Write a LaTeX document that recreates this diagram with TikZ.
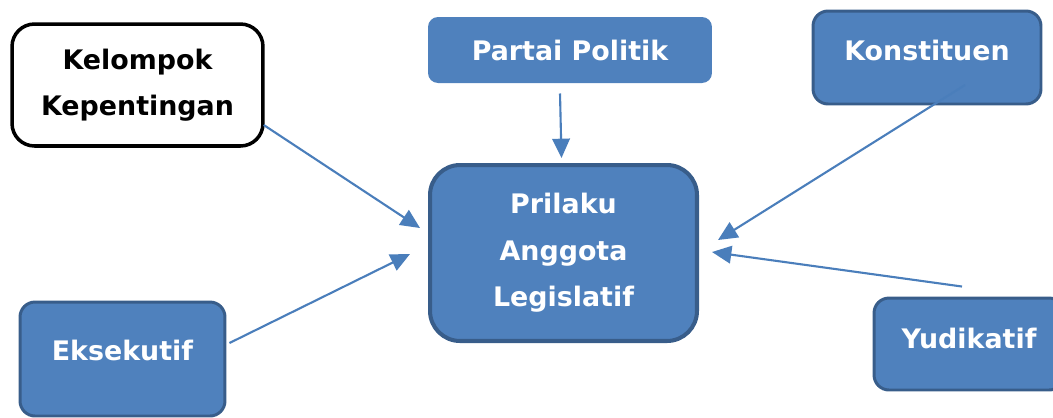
\documentclass[tikz,border=0pt]{standalone}
\usepackage{fontspec}
\setmainfont{DejaVu Sans}
\usetikzlibrary{arrows.meta}
\usetikzlibrary{positioning}

\definecolor{boxblue}{HTML}{4F81BD}
\definecolor{boxedge}{HTML}{385D8A}
\definecolor{arrblue}{HTML}{4A7EBB}

\begin{document}
\begin{tikzpicture}[x=0.02cm,y=-0.02cm,
    every node/.style={font=\fontsize{15.3}{26.5}\selectfont\bfseries, align=center, inner sep=0pt},
    bluebox/.style={fill=boxblue, draw=boxedge, line width=1.7pt, text=white, rounded corners=0.3cm},
    arr/.style={draw=arrblue, line width=1.2pt, -{Triangle[length=11pt,width=10pt]}}]
    \useasboundingbox (0,0) rectangle (1053,417);

    % Influences
    \node[draw=black, fill=white, line width=2pt, rounded corners=0.45cm,
          minimum width=5.02cm, minimum height=2.44cm] (kelompok) at (137.5,85) {Kelompok\\Kepentingan};
    \node[bluebox, draw=none, rounded corners=0.2cm,
          minimum width=5.68cm, minimum height=1.32cm] (partai) at (570,50) {Partai Politik};
    \node[bluebox, minimum width=4.56cm, minimum height=1.86cm,
          text depth=0.3cm] (konstituen) at (927,57.5) {Konstituen};
    \node[bluebox, minimum width=4.1cm, minimum height=2.28cm,
          text depth=0.36cm] (eksekutif) at (122.5,359) {Eksekutif};
    \node[bluebox, minimum width=3.8cm, minimum height=1.84cm,
          text depth=0.24cm] (yudikatif) at (969,344) {Yudikatif};

    % Legislator
    \node[bluebox, line width=2.3pt, rounded corners=0.6cm,
          minimum width=5.34cm, minimum height=3.52cm] (prilaku) at (563.5,253) {Prilaku\\Anggota\\Legislatif};

    % Arrows
    \draw[arr] ([shift={(-1,40)}]kelompok.east) -- ([shift={(-8,-25)}]prilaku.west);
    \draw[arr] ([shift={(-10,9)}]partai.south) -- ([shift={(-2,-5)}]prilaku.north);
    \draw[arr] ([shift={(38,27.5)}]konstituen.center) -- ([shift={(19,-13)}]prilaku.east);
    \draw[arr] ([shift={(-7,-10)}]yudikatif.north) -- ([shift={(13,-1)}]prilaku.east);
    \draw[arr] ([shift={(3,-16)}]eksekutif.east) -- ([shift={(-18,1)}]prilaku.west);
\end{tikzpicture}
\end{document}
